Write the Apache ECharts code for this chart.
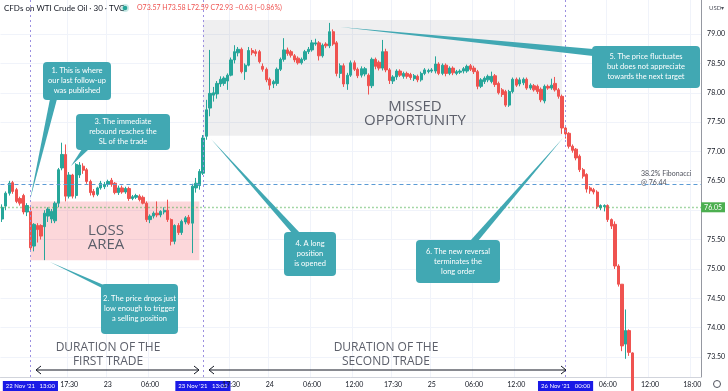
<!DOCTYPE html>
<html><head><meta charset="utf-8">
<script src="https://cdn.jsdelivr.net/npm/echarts@6/dist/echarts.min.js"></script>
<style>html,body{margin:0;padding:0;background:#fff}#c{width:728px;height:391px}</style>
</head><body><div id="c"></div>
<script>
// 30-minute candles, index 0 = first visible bar
const opens = [75.85,76.07,76.29,76.47,76.35,76.20,76.25,75.97,75.98,75.39,
 75.74,75.74,75.72,75.90,75.85,75.82,76.12,76.72,76.95,76.24,
 76.60,76.25,76.60,76.75,76.69,76.49,76.32,76.27,76.38,76.40,
 76.44,76.51,76.46,76.30,76.38,76.31,76.37,76.20,76.22,76.24,
 76.22,76.12,75.84,75.90,75.95,75.92,75.97,76.00,75.84,75.47,
 75.74,75.62,75.80,75.88,75.78,76.38,76.42,76.63,77.26,77.74,
 77.96,77.98,78.15,78.16,78.20,78.30,78.56,78.68,78.74,78.36,
 78.47,78.72,78.70,78.70,78.45,78.40,78.23,78.15,78.16,78.40,
 78.57,78.73,78.70,78.63,78.59,78.51,78.57,78.70,78.73,78.83,
 78.85,78.63,78.83,78.80,79.04,78.85,78.33,78.46,78.15,78.30,
 78.51,78.40,78.30,78.32,78.30,78.12,78.57,78.52,78.42,78.70,
 78.39,78.20,78.27,78.37,78.28,78.33,78.31,78.24,78.28,78.22,
 78.33,78.36,78.37,78.37,78.49,78.33,78.47,78.33,78.42,78.33,
 78.35,78.37,78.37,78.46,78.42,78.36,78.11,78.19,78.22,78.19,
 78.29,78.16,78.05,78.02,77.79,78.02,78.23,78.15,78.17,78.23,
 78.08,78.12,78.11,78.06,77.86,78.11,78.08,78.16,78.05,77.94,
 77.40,77.31,77.09,77.04,76.92,76.69,76.61,76.38,76.35,76.31,
 76.04,76.06,76.08,75.84,75.76,75.05,74.74,73.72,73.95,73.57];
const closes = [76.05,76.29,76.46,76.32,76.15,76.12,75.97,76.08,75.36,75.76,
 75.67,75.56,75.95,76.02,75.98,76.12,76.69,76.95,76.24,76.60,
 76.24,76.78,76.77,76.68,76.49,76.30,76.26,76.38,76.46,76.44,
 76.49,76.44,76.30,76.38,76.31,76.37,76.20,76.23,76.25,76.18,
 76.12,75.84,75.90,75.95,75.92,75.98,76.00,75.84,75.47,75.74,
 75.62,75.81,75.87,75.78,76.41,76.46,76.66,77.23,77.71,77.99,
 78.00,78.16,78.23,78.25,78.30,78.56,78.70,78.74,78.36,78.47,
 78.72,78.68,78.67,78.53,78.40,78.22,78.13,78.19,78.40,78.57,
 78.73,78.67,78.64,78.56,78.51,78.57,78.70,78.74,78.85,78.85,
 78.63,78.81,78.80,79.04,78.83,78.33,78.46,78.15,78.30,78.51,
 78.40,78.29,78.41,78.41,78.12,78.57,78.45,78.42,78.70,78.39,
 78.21,78.27,78.37,78.30,78.33,78.28,78.26,78.29,78.22,78.33,
 78.39,78.38,78.39,78.49,78.33,78.47,78.33,78.42,78.34,78.36,
 78.37,78.41,78.45,78.40,78.36,78.11,78.22,78.25,78.28,78.28,
 78.14,78.00,77.97,77.79,78.02,78.23,78.13,78.22,78.23,78.08,
 78.13,78.05,78.02,77.88,78.11,78.08,78.13,78.05,77.94,77.40,
 77.30,77.09,77.02,76.89,76.69,76.58,76.36,76.33,76.31,76.06,
 76.08,76.08,75.84,75.73,75.05,74.74,73.69,73.95,73.58,72.93];
const lows = [75.80,76.00,76.25,76.28,76.12,76.08,75.93,75.90,75.30,75.30,
 75.45,75.50,75.15,75.80,75.78,75.78,76.05,76.68,76.15,76.20,
 76.20,76.20,76.55,76.62,76.45,76.25,76.22,76.24,76.35,76.36,
 76.40,76.40,76.27,76.26,76.28,76.28,76.16,76.17,76.19,76.15,
 76.10,75.80,75.78,75.86,75.88,75.88,75.93,75.80,75.40,75.42,
 75.58,75.58,75.76,75.75,75.27,76.30,76.35,76.60,77.20,77.60,
 77.85,77.90,78.10,78.12,78.05,78.28,78.50,78.62,78.33,78.22,
 78.45,78.64,78.62,78.50,78.36,78.18,78.05,78.08,78.12,78.37,
 78.53,78.63,78.60,78.52,78.48,78.48,78.54,78.66,78.70,78.80,
 78.55,78.60,78.76,78.76,78.80,78.28,78.25,78.10,78.05,78.27,
 78.37,78.25,78.26,78.28,77.97,78.08,78.40,78.38,78.38,78.35,
 78.15,78.15,78.22,78.27,78.24,78.24,78.22,78.20,78.18,78.19,
 78.30,78.33,78.34,78.33,78.30,78.30,78.28,78.30,78.30,78.30,
 78.32,78.33,78.34,78.37,78.32,78.06,78.08,78.15,78.18,78.16,
 78.10,77.97,77.93,77.76,77.76,77.99,78.10,78.11,78.13,78.05,
 78.05,78.02,77.98,77.84,77.82,78.05,78.05,78.02,77.90,77.30,
 77.22,77.05,76.98,76.85,76.65,76.54,76.30,76.28,76.27,76.02,
 76.00,75.98,75.80,75.68,75.00,74.70,73.60,73.47,73.52,72.59];
const highs = [76.10,76.32,76.50,76.50,76.38,76.23,76.28,76.12,76.05,75.78,
 75.78,75.76,76.00,76.05,76.02,76.15,76.72,77.15,77.12,76.65,
 76.62,76.80,76.82,76.80,76.72,76.52,76.36,76.40,76.50,76.48,
 76.52,76.55,76.48,76.42,76.42,76.40,76.40,76.26,76.28,76.27,
 76.25,76.15,75.93,75.98,76.15,76.00,76.05,76.18,75.86,75.76,
 75.78,75.84,75.90,75.92,76.45,76.55,76.70,77.28,77.88,78.73,
 78.10,78.20,78.28,78.28,78.33,78.60,78.81,78.78,78.77,78.50,
 78.78,78.76,78.74,78.73,78.50,78.43,78.26,78.22,78.43,78.60,
 78.93,78.77,78.73,78.66,78.62,78.60,78.73,78.78,78.90,78.92,
 78.88,78.84,78.86,79.19,79.08,78.88,78.50,78.50,78.34,78.55,
 78.55,78.43,78.45,78.44,78.33,78.60,78.60,78.55,78.90,78.75,
 78.42,78.30,78.40,78.40,78.36,78.36,78.34,78.32,78.31,78.36,
 78.42,78.41,78.42,78.62,78.52,78.50,78.50,78.45,78.45,78.39,
 78.40,78.44,78.48,78.49,78.46,78.39,78.25,78.28,78.31,78.36,
 78.32,78.19,78.08,78.05,78.05,78.26,78.26,78.26,78.26,78.26,
 78.16,78.15,78.14,78.09,78.14,78.14,78.24,78.27,78.08,77.97,
 77.45,77.33,77.12,77.06,76.95,76.72,76.63,76.41,76.38,76.34,
 76.10,76.10,76.10,75.86,75.81,75.08,74.74,74.31,73.97,73.58];

const slotCount = 199;               // bar slots on the time scale (incl. empty future space)
const timeTicks = [[8,"22 Nov '21   13:00",1],[19,'17:30'],[30,'23'],[42,'06:00'],[57,"23 Nov '21   13:00",1],
  [65,'17:30'],[76,'24'],[88,'06:00'],[100,'12:00'],[111,'17:30'],[122,'25'],[134,'06:00'],[146,'12:00'],
  [160,"26 Nov '21   00:00",1],[172,'06:00'],[184,'12:00'],[196,'18:00']];
const priceTicks = [73.5,74,74.5,75,75.5,76,76.5,77,77.5,78,78.5,79];
const eventBars = [8,57,160];
const fibLevel = 76.44;
const lastLevel = 76.05;
const lossArea = {from:8, to:56, top:76.15, bottom:75.15};
const missedArea = {from:57, to:159, top:79.24, bottom:77.27};

const UP='#26a69a', DOWN='#ef5350', TEAL='#41a8b3';
const cats = Array.from({length:slotCount}, (_, i) => String(i));
const ohlc = cats.map((_, i) => i < opens.length ? [opens[i], closes[i], lows[i], highs[i]] : '-');
const tickMap = {}; timeTicks.forEach(t => tickMap[t[0]] = t);

const chart = echarts.init(document.getElementById('c'));
chart.setOption({
  animation:false,
  grid:{left:0,right:23,top:0,bottom:14},
  xAxis:{type:'category', data:cats, boundaryGap:true,
    axisLine:{show:true, lineStyle:{color:'#d1d4dc'}}, axisTick:{show:false},
    axisLabel:{interval:(i)=>!!tickMap[i], showMinLabel:true, showMaxLabel:true, hideOverlap:false, margin:4, fontSize:7, color:'#131722', fontFamily:'Lato',
      formatter:(v,i)=>{const t=tickMap[+v]; if(!t) return ''; return t[2]?'{hl|'+t[1]+'}':t[1];},
      rich:{hl:{backgroundColor:'#1a1ae6', color:'#fff', padding:[2,3,2,3], fontSize:6, fontFamily:'Lato'}}},
    splitLine:{show:true, interval:(i)=>!!tickMap[i] && !tickMap[i][2], lineStyle:{color:'#f0f3fa'}}},
  yAxis:{type:'value', position:'right', min:73.16, max:79.58,
    axisLine:{show:true, lineStyle:{color:'#9598a1'}}, axisTick:{show:false, customValues:priceTicks},
    axisLabel:{customValues:priceTicks, formatter:v=>v.toFixed(2), fontSize:7, color:'#131722', margin:6, fontFamily:'Lato'},
    splitLine:{show:true, lineStyle:{color:'#f0f3fa'}}},
  series:[{type:'candlestick', data:ohlc, barWidth:'80%',
    itemStyle:{color:UP,color0:DOWN,borderColor:UP,borderColor0:DOWN,borderWidth:1},
    markArea:{silent:true, data:[
      [{xAxis:lossArea.from, yAxis:lossArea.top, itemStyle:{color:'rgba(242,54,69,0.2)'}},{xAxis:lossArea.to, yAxis:lossArea.bottom}],
      [{xAxis:missedArea.from, yAxis:missedArea.top, itemStyle:{color:'rgba(120,123,134,0.12)'}},{xAxis:missedArea.to, yAxis:missedArea.bottom}]]},
    markLine:{silent:true, symbol:['none','none'], animation:false, label:{show:false},
      data:[
        ...eventBars.map(b=>({xAxis:b, lineStyle:{color:'#9b8fe0', type:[2,3], width:1}})),
        {yAxis:fibLevel, lineStyle:{color:'#5b9bd5', type:[4,3], width:1}},
        {yAxis:lastLevel, lineStyle:{color:'#4caf50', type:[1,3], width:1.3},
          label:{show:true, position:'end', distance:0, formatter:'76.05', color:'#fff', backgroundColor:'#4caf50', padding:[2,3,1,3], fontSize:7, fontFamily:'Lato'}}
      ]}
  }]
});

function callout(x,y,w,h,text,tip,b1,b2){
  return [
    {type:'polygon', z:100, shape:{points:[tip,b1,b2]}, style:{fill:TEAL}},
    {type:'rect', z:100, shape:{x:x,y:y,width:w,height:h,r:4}, style:{fill:TEAL}},
    {type:'text', z:101, x:x+w/2, y:y+h/2, style:{text:text, fill:'#fff', font:'7.5px Lato', align:'center', verticalAlign:'middle', lineHeight:10}}
  ];
}
function bigText(x,y,text,size,lh){
  return {type:'text', z:101, x:x, y:y, style:{text:text, fill:'#5d606b', font:'500 '+size+'px "Open Sans"', align:'center', verticalAlign:'middle', lineHeight:lh}};
}
function arrow(x1,x2,y){
  return [
    {type:'line', z:100, shape:{x1:x1,y1:y,x2:x2,y2:y}, style:{stroke:'#131722', lineWidth:1}},
    {type:'polyline', z:100, shape:{points:[[x1+5,y-4],[x1,y],[x1+5,y+4]]}, style:{stroke:'#131722', fill:null, lineWidth:1}},
    {type:'polyline', z:100, shape:{points:[[x2-5,y-4],[x2,y],[x2-5,y+4]]}, style:{stroke:'#131722', fill:null, lineWidth:1}}
  ];
}
const els = [].concat(
  callout(43,62,68,38,'1. This is where\nour last follow-up\nwas published',[30,200],[50,99],[57,99]),
  callout(76,114,94,36,'3. The immediate\nrebound reaches the\nSL of the trade',[71,166],[82,149],[89,149]),
  callout(101,284,77,50,'2. The price drops just\nlow enough to trigger\na selling position',[50,262],[106,286],[110,292]),
  callout(284,232,52,44,'4. A long\nposition\nis opened',[211,139],[292,233],[300,233]),
  callout(592,46,108,42,'5. The price fluctuates\nbut does not appreciate\ntowards the next target',[340,27],[593,49],[593,56]),
  callout(416,240,84,43,'6. The new reversal\nterminates the\nlong order',[563,138],[470,241],[478,241]),
  [bigText(106,238,'LOSS\nAREA',15,14), bigText(415,114,'MISSED\nOPPORTUNITY',15,14),
   bigText(108,355,'DURATION OF THE\nFIRST TRADE',12,14), bigText(386,355,'DURATION OF THE\nSECOND TRADE',12,14)],
  arrow(36,199,370), arrow(209,566,370),
  [{type:'text', z:101, x:641, y:178, style:{text:'38.2% Fibonacci\n@ 76.44', fill:'#50535e', font:'7px Lato', align:'left', verticalAlign:'middle', lineHeight:9}},
   {type:'text', z:101, x:4, y:8, style:{text:'CFDs on WTI Crude Oil · 30 · TVC', fill:'#131722', font:'8px Lato', verticalAlign:'middle'}},
   {type:'circle', z:101, shape:{cx:125,cy:8,r:4}, style:{fill:'rgba(38,166,154,0.25)'}},
   {type:'circle', z:101, shape:{cx:125,cy:8,r:2.3}, style:{fill:UP}},
   {type:'text', z:101, x:137, y:8, style:{text:'O73.57 H73.58 L72.59 C72.93 \u22120.63 (\u22120.86%)', fill:DOWN, font:'7px Lato', verticalAlign:'middle'}},
   {type:'text', z:101, x:709, y:8, style:{text:'USD\u25BE', fill:'#50535e', font:'6px Lato', verticalAlign:'middle'}},
   {type:'circle', z:101, shape:{cx:717,cy:384,r:3.5}, style:{fill:null, stroke:'#50535e', lineWidth:1}}]
);
chart.setOption({graphic:{elements:els}});
</script></body></html>
